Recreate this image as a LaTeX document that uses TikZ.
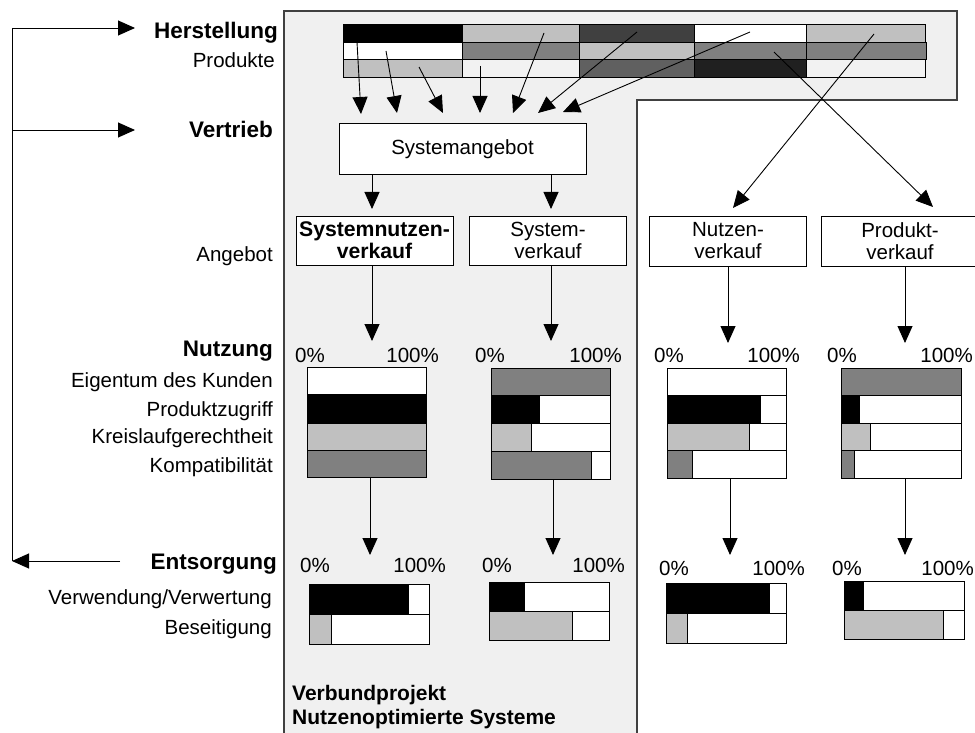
\documentclass[tikz,border=0pt]{standalone}
\usepackage{fontspec}
\setmainfont{Liberation Sans}
\usetikzlibrary{arrows.meta}

\definecolor{panel}{HTML}{F0F0F0}
\definecolor{lgray}{HTML}{C0C0C0}
\definecolor{mgray}{HTML}{808080}
\definecolor{dgray}{HTML}{404040}
\definecolor{ddgray}{HTML}{606060}
\definecolor{nblack}{HTML}{202020}
\definecolor{paleg}{HTML}{F2F2F2}

% one row of a share chart: left, right, top, bottom, split x, colour
\newcommand\sharerow[6]{%
  \fill[white] (#1,#3) rectangle (#2,#4);
  \fill[#6] (#1,#3) rectangle (#5,#4);
  \draw[chartline] (#1,#3) rectangle (#2,#4);
  \draw[chartline] (#5,#3) -- (#5,#4);
}
% one cell of the product strip
\newcommand\prodcell[5]{%
  \fill[#5] (#1,#3) rectangle (#2,#4);
  \draw[chartline] (#1,#3) rectangle (#2,#4);
}

\begin{document}
\begin{tikzpicture}[x=1pt,y=-1pt,
  every node/.style={font=\fontsize{20.5}{22}\selectfont, inner sep=0pt},
  lbl/.style={anchor=base east},
  head/.style={anchor=base east, font=\fontsize{22.5}{24}\selectfont\bfseries},
  pctl/.style={anchor=base west},
  pctr/.style={anchor=base east},
  chartline/.style={draw=black, line width=0.9pt},
  stagebox/.style={draw=black, line width=1pt, fill=white, align=center,
    minimum height=49pt, minimum width=157pt},
  arr/.style={line width=0.9pt, -{Triangle[length=17pt,width=15pt]}},
]
\useasboundingbox (0,0) rectangle (975,733);
\clip (0,0) rectangle (975,733);

% shaded project area
\draw[fill=panel, draw=dgray, line width=1.2pt]
  (284,11) -- (957,11) -- (957,100) -- (637,100) -- (637,745) -- (284,745) -- cycle;

% product strip
\prodcell{343}{462}{24}{42}{black}
\prodcell{462}{579}{24}{42}{lgray}
\prodcell{579}{694}{24}{42}{dgray}
\prodcell{694}{806}{24}{42}{white}
\prodcell{806}{925}{24}{42}{lgray}
\prodcell{343}{462}{42}{59}{white}
\prodcell{462}{579}{42}{59}{mgray}
\prodcell{579}{694}{42}{59}{lgray}
\prodcell{694}{806}{42}{59}{mgray}
\prodcell{806}{926}{42}{59}{mgray}
\prodcell{343}{462}{59}{77}{lgray}
\prodcell{462}{579}{59}{77}{paleg}
\prodcell{579}{694}{59}{77}{ddgray}
\prodcell{694}{806}{59}{77}{nblack}
\prodcell{806}{925}{59}{77}{paleg}

% left-hand labels
\node[head] (herst) at (278,39) {Herstellung};
\node[lbl]  (prod)  at (275,68) {Produkte};
\node[head] (vertr) at (273,138) {Vertrieb};
\node[lbl]  (angeb) at (273,261) {Angebot};
\node[head] (nutz)  at (273,356) {Nutzung};
\node[lbl]  (eig)   at (273,387) {Eigentum des Kunden};
\node[lbl]  (pzug)  at (273,416) {Produktzugriff};
\node[lbl]  (kreis) at (273,443) {Kreislaufgerechtheit};
\node[lbl]  (komp)  at (273,472) {Kompatibilität};
\node[head] (ents)  at (277,569) {Entsorgung};
\node[lbl]  (verw)  at (272,604) {Verwendung/Verwertung};
\node[lbl]  (beseit) at (272,634) {Beseitigung};
\node[anchor=base west, font=\fontsize{21}{22}\selectfont\bfseries] (vp1) at (292,700) {Verbundprojekt};
\node[anchor=base west, font=\fontsize{21}{22}\selectfont\bfseries] (vp2) at (292,724) {Nutzenoptimierte Systeme};

% life-cycle loop on the left
\coordinate (loopTop) at (12,28);
\coordinate (loopMid) at (12,130);
\coordinate (loopBot) at (12,561);
\coordinate (hTip) at (135,28);
\coordinate (vTip) at (135,130);
\coordinate (eStart) at (120,561);
\draw[line width=0.9pt] (loopTop) -- (loopBot);
\draw[arr] (loopTop) -- (hTip);
\draw[arr] (loopMid) -- (vTip);
\draw[arr] (eStart) -- (loopBot);

% offer boxes
\node[stagebox, minimum width=247pt, minimum height=51pt] (sa) at (462.5,149.5) {Systemangebot};
\node[stagebox, font=\fontsize{21.2}{22}\selectfont\bfseries] (snv) at (374.5,240.5) {Systemnutzen-\\verkauf};
\node[stagebox] (sv) at (548,240.5) {System-\\verkauf};
\node[stagebox, minimum height=50pt] (nv) at (728,241) {Nutzen-\\verkauf};
\node[stagebox, minimum height=50pt] (pv) at (900,241) {Produkt-\\verkauf};

% arrows from the product strip
\coordinate (s1) at (357,42);  \coordinate (e1) at (361,114);
\coordinate (s2) at (386,51);  \coordinate (e2) at (397,113);
\coordinate (s3) at (419,67);  \coordinate (e3) at (443,113);
\coordinate (s4) at (480,66);  \coordinate (e4) at (480,113);
\coordinate (s5) at (544,33);  \coordinate (e5) at (513,113);
\coordinate (s6) at (637,32);  \coordinate (e6) at (538,113);
\coordinate (s7) at (750,32);  \coordinate (e7) at (563,112);
\coordinate (s8) at (774,52);  \coordinate (e8) at (933,207);
\coordinate (s9) at (874,34);  \coordinate (e9) at (733,208);
\foreach \k in {1,...,9} { \draw[arr] (s\k) -- (e\k); }

% from the system offer to the two system variants
\coordinate (t1) at (372,209);
\coordinate (t2) at (551,209);
\draw[arr] (sa.south -| t1) -- (t1);
\draw[arr] (sa.south -| t2) -- (t2);

% from the offers down to the use charts
\coordinate (u1) at (372,341);
\coordinate (u2) at (551,341);
\coordinate (u3) at (728,343);
\coordinate (u4) at (905,343);
\draw[arr] (snv.south -| u1) -- (u1);
\draw[arr] (sv.south -| u2) -- (u2);
\draw[arr] (nv.south -| u3) -- (u3);
\draw[arr] (pv.south -| u4) -- (u4);

% use charts
\node[pctl] at (295,362) {0\%};  \node[pctr] at (439,362) {100\%};
\node[pctl] at (475,362) {0\%};  \node[pctr] at (622,362) {100\%};
\node[pctl] at (654,362) {0\%};  \node[pctr] at (800,362) {100\%};
\node[pctl] at (827,362) {0\%};  \node[pctr] at (973,362) {100\%};

\sharerow{307}{426}{367}{394}{426}{white}
\sharerow{307}{426}{394}{423}{426}{black}
\sharerow{307}{426}{423}{450}{426}{lgray}
\sharerow{307}{426}{450}{477}{426}{mgray}

\sharerow{491}{610}{368}{395}{610}{mgray}
\sharerow{491}{610}{395}{423}{539}{black}
\sharerow{491}{610}{423}{451}{531}{lgray}
\sharerow{491}{610}{451}{479}{591}{mgray}

\sharerow{667}{786}{368}{395}{786}{white}
\sharerow{667}{786}{395}{423}{760}{black}
\sharerow{667}{786}{423}{450}{749}{lgray}
\sharerow{667}{786}{450}{478}{692}{mgray}

\sharerow{841}{961}{368}{395}{961}{mgray}
\sharerow{841}{961}{395}{423}{859}{black}
\sharerow{841}{961}{423}{450}{870}{lgray}
\sharerow{841}{961}{450}{478}{854}{mgray}

% from the use charts down to the disposal charts
\coordinate (c1) at (370,477);  \coordinate (d1) at (370,555);
\coordinate (c2) at (553,479);  \coordinate (d2) at (553,555);
\coordinate (c3) at (730,478);  \coordinate (d3) at (730,555);
\coordinate (c4) at (905,478);  \coordinate (d4) at (905,555);
\foreach \k in {1,...,4} { \draw[arr] (c\k) -- (d\k); }

% disposal charts
\node[pctl] at (300,572) {0\%};  \node[pctr] at (446,572) {100\%};
\node[pctl] at (482,572) {0\%};  \node[pctr] at (625,572) {100\%};
\node[pctl] at (659,575) {0\%};  \node[pctr] at (805,575) {100\%};
\node[pctl] at (832,575) {0\%};  \node[pctr] at (974,575) {100\%};

\sharerow{309}{429}{584}{614}{408}{black}
\sharerow{309}{429}{614}{644}{331}{lgray}

\sharerow{489}{609}{582}{611}{524}{black}
\sharerow{489}{609}{611}{640}{572}{lgray}

\sharerow{666}{786}{583}{613}{769}{black}
\sharerow{666}{786}{613}{643}{687}{lgray}

\sharerow{844}{964}{581}{610}{863}{black}
\sharerow{844}{964}{610}{639}{943}{lgray}

\end{tikzpicture}
\end{document}
